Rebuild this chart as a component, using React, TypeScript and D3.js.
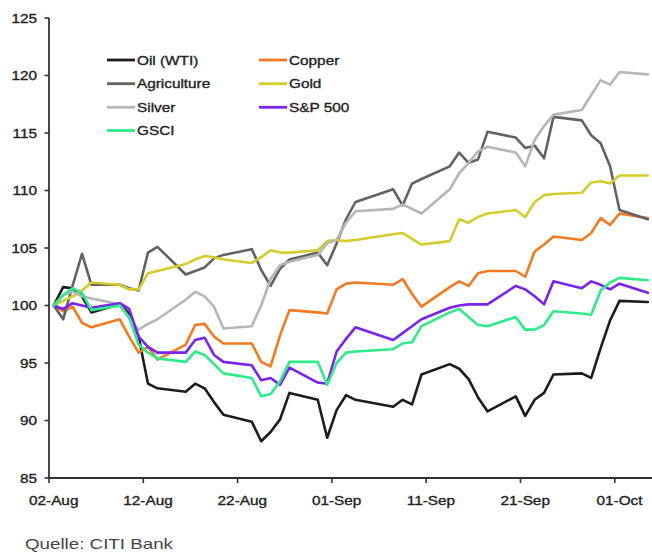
import React from "react";
import * as d3 from "d3";

const dates: string[] = [
  "2010-08-02","2010-08-03","2010-08-04","2010-08-05","2010-08-06",
  "2010-08-09","2010-08-10","2010-08-11","2010-08-12","2010-08-13",
  "2010-08-16","2010-08-17","2010-08-18","2010-08-19","2010-08-20",
  "2010-08-23","2010-08-24","2010-08-25","2010-08-26","2010-08-27",
  "2010-08-30","2010-08-31","2010-09-01","2010-09-02","2010-09-03",
  "2010-09-07","2010-09-08","2010-09-09","2010-09-10",
  "2010-09-13","2010-09-14","2010-09-15","2010-09-16","2010-09-17",
  "2010-09-20","2010-09-21","2010-09-22","2010-09-23","2010-09-24",
  "2010-09-27","2010-09-28","2010-09-29","2010-09-30","2010-10-01",
  "2010-10-04",
];

const oil = [
  100, 101.6, 101.5, 100.8, 99.4,
  100.1, 99.3, 97.3, 93.2, 92.8,
  92.5, 93.2, 92.8, 91.6, 90.5,
  89.9, 88.2, 89.0, 90.1, 92.4,
  91.8, 88.5, 90.9, 92.2, 91.8,
  91.2, 91.8, 91.4, 94.0,
  94.9, 94.5, 93.6, 92.0, 90.8,
  92.1, 90.4, 91.8, 92.4, 94.0,
  94.1, 93.7, 96.3, 98.7, 100.4,
  100.3,
];

const copper = [
  100, 99.5, 99.9, 98.5, 98.1,
  98.8, 97.3, 95.9, 96.4, 95.3,
  96.6, 98.3, 98.4, 97.3, 96.7,
  96.7, 95.1, 94.7, 97.4, 99.6,
  99.4, 99.3, 101.4, 101.9, 102.0,
  101.8, 102.3, 101.0, 99.9,
  101.6, 102.1, 101.7, 102.8, 103.0,
  103.0, 102.5, 104.7, 105.3, 106.0,
  105.7, 106.3, 107.6, 107.0, 108.0,
  107.6,
];

const agriculture = [
  100, 98.8, 101.7, 104.5, 101.8,
  101.8, 101.5, 101.3, 104.6, 105.1,
  102.7, 103.0, 103.3, 104.1, 104.4,
  104.9, 103.1, 101.7, 103.2, 104.0,
  104.6, 103.5, 105.4, 107.5, 109.0,
  110.1, 108.7, 110.6, 111.0,
  112.1, 113.3, 112.4, 112.7, 115.1,
  114.6, 113.7, 113.9, 112.8, 116.4,
  116.1, 114.8, 114.1, 112.1, 108.3,
  107.5,
];

const gold = [
  100, 100.4, 100.8, 101.3, 102.0,
  101.8, 101.4, 101.4, 102.8, 103.0,
  103.6, 104.0, 104.3, 104.2, 104.0,
  103.7, 104.2, 104.8, 104.6, 104.6,
  104.8, 105.6, 105.7, 105.6, 105.7,
  106.2, 106.3, 105.8, 105.3,
  105.6, 107.5, 107.2, 107.7, 108.0,
  108.3, 107.7, 109.0, 109.6, 109.7,
  109.8, 110.7, 110.8, 110.6, 111.3,
  111.3,
];

const silver = [
  100, 100.9, 101.2, 100.8, 100.6,
  100.1, 98.9, 97.9, 98.4, 98.8,
  100.5, 101.2, 100.8, 99.9, 98.0,
  98.2, 100.0, 102.3, 103.5, 103.8,
  104.4, 105.4, 105.7, 107.2, 108.2,
  108.4, 108.8, 108.4, 108.0,
  110.1, 111.5, 112.4, 113.4, 113.8,
  113.3, 112.1, 114.4, 115.6, 116.6,
  117.0, 118.3, 119.6, 119.2, 120.3,
  120.1,
];

const sp500 = [
  100, 99.7, 100.2, 100.0, 99.8,
  100.2, 99.7, 97.3, 96.4, 95.9,
  95.9, 97.0, 97.2, 95.7, 95.1,
  94.8, 93.5, 93.7, 93.1, 94.6,
  93.3, 93.2, 96.0, 97.1, 98.1,
  97.0, 97.6, 98.2, 98.8,
  99.8, 100.0, 100.1, 100.1, 100.1,
  101.7, 101.4, 100.8, 100.1, 102.1,
  101.5, 102.1, 101.8, 101.4, 101.9,
  101.1,
];

const gsci = [
  100, 100.9, 101.5, 101.1, 99.6,
  100.0, 99.0, 96.6, 95.9, 95.4,
  95.1, 96.0, 95.7, 94.9, 94.1,
  93.7, 92.1, 92.3, 93.4, 95.1,
  95.1, 93.1, 95.0, 95.9, 96.0,
  96.2, 96.7, 96.8, 98.2,
  99.4, 99.7, 99.0, 98.3, 98.2,
  99.0, 97.9, 97.9, 98.3, 99.5,
  99.3, 99.2, 101.3, 102.0, 102.4,
  102.2,
];

const seriesNames = ["Oil (WTI)", "Copper", "Agriculture", "Gold", "Silver", "S&P 500", "GSCI"];
const seriesValues = [oil, copper, agriculture, gold, silver, sp500, gsci];
const seriesColors = ["#1c1c1c", "#f47a22", "#626262", "#d6cb2c", "#b6b6b6", "#7a22ee", "#2eea8a"];

const yTicks = [85, 90, 95, 100, 105, 110, 115, 120, 125];
const xTickDates = ["2010-08-02", "2010-08-12", "2010-08-22", "2010-09-01", "2010-09-11", "2010-09-21", "2010-10-01"];

const W = 652;
const H = 556;
const FONT = "'Liberation Sans', Arial, sans-serif";
const DAY = 86400000;

export default function App() {
  const parse = (s: string) => new Date(s + "T00:00:00Z");
  const x = d3.scaleUtc().domain([parse("2010-08-02"), parse("2010-10-05")]).range([49, 652.5]);
  const y = d3.scaleLinear().domain([85, 125]).range([478, 18]);
  const xMid = (s: string) => x(new Date(parse(s).getTime() + DAY / 2));

  const line = d3
    .line<number>()
    .x((_, i) => xMid(dates[i]))
    .y((v) => y(v));

  const axisX0 = x.range()[0];
  const axisY0 = y.range()[0];
  const stretch = 1.18;
  const textStroke = { stroke: "#222", strokeWidth: 0.35 };

  const legendCols = [107, 259];
  const legendRows = [60, 83.7, 107.3, 130.5];

  return (
    <svg
      width={W}
      height={H}
      style={{ position: "absolute", left: 0, top: 0, background: "#fff" }}
      fontFamily={FONT}
    >
      <rect x={0} y={0} width={W} height={H} fill="#fff" />
      {seriesValues.map((vals, si) => (
        <path
          key={seriesNames[si]}
          d={line(vals) || ""}
          fill="none"
          stroke={seriesColors[si]}
          strokeWidth={2.6}
          strokeLinejoin="round"
          strokeLinecap="round"
        />
      ))}
      <line x1={axisX0} y1={y(125)} x2={axisX0} y2={axisY0} stroke="#333" strokeWidth={1.8} />
      <line x1={axisX0} y1={axisY0} x2={x.range()[1]} y2={axisY0} stroke="#333" strokeWidth={1.8} />
      {yTicks.map((t) => (
        <g key={"y" + t}>
          <line x1={axisX0 - 4.5} x2={axisX0} y1={y(t)} y2={y(t)} stroke="#333" strokeWidth={1.6} />
          <text
            transform={`translate(37,${y(t) + 4.6}) scale(${stretch},1)`}
            textAnchor="end"
            fontSize={13}
            fill="#222"
            {...textStroke}
          >
            {t}
          </text>
        </g>
      ))}
      {xTickDates.map((s) => (
        <g key={"x" + s}>
          <line x1={x(parse(s))} x2={x(parse(s))} y1={axisY0} y2={axisY0 + 5} stroke="#333" strokeWidth={1.6} />
          <text
            transform={`translate(${xMid(s)},504.5) scale(${stretch},1)`}
            textAnchor="middle"
            fontSize={13}
            fill="#222"
            {...textStroke}
          >
            {d3.utcFormat("%d-%b")(parse(s))}
          </text>
        </g>
      ))}
      {seriesNames.map((name, si) => {
        const col = si % 2;
        const row = Math.floor(si / 2);
        const lx = legendCols[col];
        const ly = legendRows[row];
        return (
          <g key={"lg" + name}>
            <line x1={lx} x2={lx + 28} y1={ly} y2={ly} stroke={seriesColors[si]} strokeWidth={2.8} />
            <text
              transform={`translate(${lx + 30},${ly + 4.7}) scale(${stretch},1)`}
              fontSize={13}
              fill="#222"
              {...textStroke}
            >
              {name}
            </text>
          </g>
        );
      })}
      <text x={25} y={549} fontSize={15} fill="#444" textLength={148} lengthAdjust="spacingAndGlyphs">
        Quelle: CITI Bank
      </text>
    </svg>
  );
}
